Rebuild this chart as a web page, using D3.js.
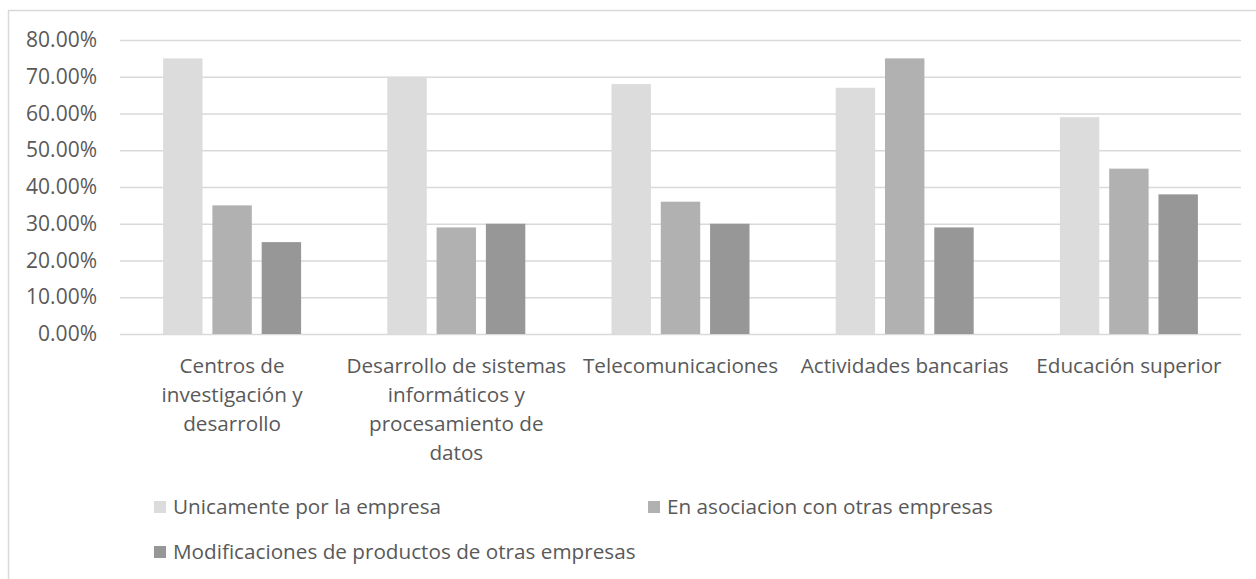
<!DOCTYPE html>
<html>
<head>
<meta charset="utf-8">
<script src="https://cdn.jsdelivr.net/npm/d3@7"></script>
<style>
  html, body { margin: 0; padding: 0; background: #fff; }
  svg { display: block; }
  text { font-family: "Open Sans", sans-serif; fill: #595959; }
</style>
</head>
<body>
<svg id="chart" width="1256" height="579"></svg>
<script>
// Category labels (already broken into lines as displayed)
const categories = [
  ["Centros de", "investigación y", "desarrollo"],
  ["Desarrollo de sistemas", "informáticos y", "procesamiento de", "datos"],
  ["Telecomunicaciones"],
  ["Actividades bancarias"],
  ["Educación superior"]
];
const seriesNames = [
  "Unicamente por la empresa",
  "En asociacion con otras empresas",
  "Modificaciones de productos de otras empresas"
];
const unicamente = [0.75, 0.70, 0.68, 0.67, 0.59];
const asociacion = [0.35, 0.29, 0.36, 0.75, 0.45];
const modificaciones = [0.25, 0.30, 0.30, 0.29, 0.38];
const yTicks = [0, 0.1, 0.2, 0.3, 0.4, 0.5, 0.6, 0.7, 0.8];
const colors = ["#dcdcdc", "#b1b1b1", "#979797"];

const series = [unicamente, asociacion, modificaciones];
const svg = d3.select("#chart");

// Outer chart frame
svg.append("rect")
  .attr("x", 8.5).attr("y", 10.5)
  .attr("width", 1300).attr("height", 700)
  .attr("fill", "#fff").attr("stroke", "#d9d9d9").attr("stroke-width", 1.5);

const plot = { left: 120, right: 1241, top: 40, bottom: 334 };

const x0 = d3.scaleBand()
  .domain(d3.range(categories.length))
  .range([plot.left, plot.right])
  .paddingInner(0).paddingOuter(0);

const groupW = 138;
const x1 = d3.scaleBand()
  .domain(d3.range(series.length))
  .range([(x0.bandwidth() - groupW) / 2, (x0.bandwidth() + groupW) / 2])
  .paddingInner(0.2).paddingOuter(0);

const y = d3.scaleLinear().domain([0, 0.8]).range([plot.bottom, plot.top]);

// Gridlines and value axis labels
const yAxis = d3.axisLeft(y)
  .tickValues(yTicks)
  .tickSize(-(plot.right - plot.left))
  .tickPadding(23)
  .tickFormat(d3.format(".2%"));

const gy = svg.append("g")
  .attr("transform", `translate(${plot.left},0)`)
  .call(yAxis);
gy.select(".domain").remove();
gy.selectAll(".tick line").attr("stroke", "#d9d9d9").attr("stroke-width", 1.5);
gy.selectAll(".tick text")
  .attr("font-size", 21)
  .attr("font-family", "'Open Sans', sans-serif")
  .attr("fill", "#595959");

// Bars
const groups = svg.append("g").selectAll("g")
  .data(categories.map((c, i) => i))
  .join("g")
  .attr("transform", i => `translate(${x0(i)},0)`);

groups.selectAll("rect")
  .data(i => series.map((s, k) => ({ k, v: s[i] })))
  .join("rect")
  .attr("x", d => x1(d.k))
  .attr("width", x1.bandwidth())
  .attr("y", d => y(d.v))
  .attr("height", d => y(0) - y(d.v))
  .attr("fill", d => colors[d.k]);

// Category labels
const catG = svg.append("g");
categories.forEach((lines, i) => {
  const cx = x0(i) + x0.bandwidth() / 2;
  const t = catG.append("text")
    .attr("x", cx)
    .attr("y", 373)
    .attr("text-anchor", "middle")
    .attr("font-size", 20.7);
  lines.forEach((ln, j) => {
    t.append("tspan")
      .attr("x", cx)
      .attr("dy", j === 0 ? 0 : 29)
      .text(ln);
  });
});

// Legend
const legendPos = [[154, 507], [648, 507], [154, 552]];
const lg = svg.append("g");
seriesNames.forEach((name, k) => {
  const [lx, ly] = legendPos[k];
  lg.append("rect")
    .attr("x", lx).attr("y", ly - 6)
    .attr("width", 12).attr("height", 12)
    .attr("fill", colors[k]);
  lg.append("text")
    .attr("x", lx + 19).attr("y", ly)
    .attr("dy", "0.35em")
    .attr("font-size", 20.7)
    .text(name);
});
</script>
</body>
</html>
